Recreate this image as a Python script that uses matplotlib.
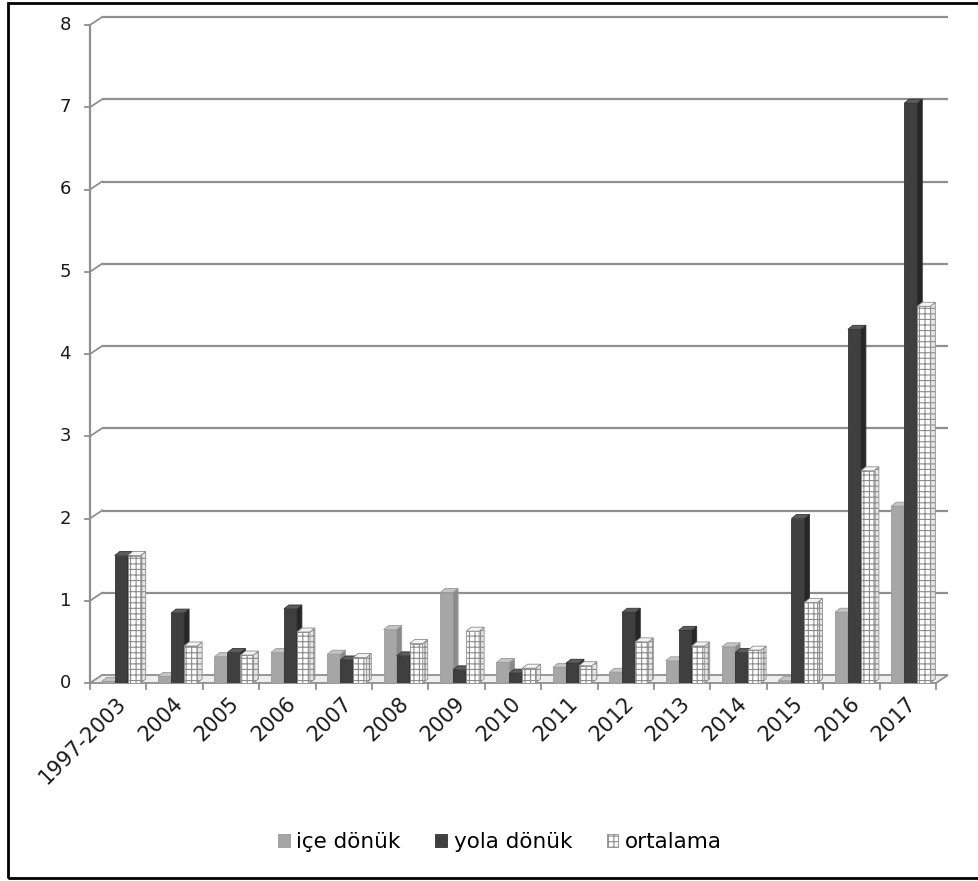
import matplotlib
matplotlib.use("Agg")
import matplotlib.pyplot as plt
from matplotlib.patches import Polygon, Rectangle, Patch

# ---- data -------------------------------------------------------------
categories = ['1997-2003', '2004', '2005', '2006', '2007', '2008', '2009',
              '2010', '2011', '2012', '2013', '2014', '2015', '2016', '2017']
ice_donuk = [0.02, 0.08, 0.32, 0.37, 0.35, 0.65, 1.10, 0.25, 0.19, 0.13,
             0.27, 0.44, 0.03, 0.86, 2.15]
yola_donuk = [1.55, 0.85, 0.37, 0.90, 0.28, 0.33, 0.16, 0.12, 0.24, 0.86,
              0.64, 0.37, 2.00, 4.30, 7.05]
ortalama = [1.55, 0.45, 0.34, 0.62, 0.31, 0.48, 0.63, 0.18, 0.21, 0.50,
            0.45, 0.40, 0.98, 2.58, 4.58]
series_names = ['içe dönük', 'yola dönük', 'ortalama']
y_ticks = [0, 1, 2, 3, 4, 5, 6, 7, 8]

FONT = ['DejaVu Sans']
plt.rcParams['font.family'] = FONT
plt.rcParams['hatch.linewidth'] = 0.8

W, H = 979, 881
fig = plt.figure(figsize=(W / 100, H / 100), dpi=100)
fig.patch.set_facecolor('white')

x_left, x_right, y_bot, y_top = 90, 936, 683, 25
ax = fig.add_axes([x_left / W, 1 - y_bot / H, (x_right - x_left) / W,
                   (y_bot - y_top) / H])
n = len(categories)
ax.set_xlim(0, n)
ax.set_ylim(0, y_ticks[-1])
ax.axis('off')

# pixel sizes in data units
px = n / (x_right - x_left)
py = y_ticks[-1] / (y_bot - y_top)

wall_dx, wall_dy = 12 * px, 8 * py     # depth of back wall
bar_dx, bar_dy = 5 * px, 4 * py        # depth of each bar
grid_c = '#8f8f8f'
text_c = '#1a1a1a'

# floor
floor = Polygon([(0, 0), (n, 0), (n + wall_dx, wall_dy), (wall_dx, wall_dy)],
                closed=True, facecolor='#eeeeee', edgecolor=grid_c, lw=1.3,
                zorder=1, clip_on=False)
ax.add_patch(floor)

# back wall gridlines with their diagonal joints to the value axis
for v in y_ticks[1:]:
    ax.plot([wall_dx, n + wall_dx], [v + wall_dy, v + wall_dy], color=grid_c,
            lw=1.6, zorder=1, clip_on=False, solid_capstyle='butt')
    ax.plot([0, wall_dx], [v, v + wall_dy], color=grid_c, lw=1.3, zorder=1,
            clip_on=False)

# value axis
ax.plot([0, 0], [0, y_ticks[-1]], color=grid_c, lw=1.6, zorder=1, clip_on=False)
for v in y_ticks:
    ax.plot([-5 * px, 0], [v, v], color=grid_c, lw=1.3, zorder=1, clip_on=False)
    ax.text(-19 * px, v, str(v), ha='right', va='center', fontsize=13,
            color=text_c, clip_on=False)

# category axis ticks and labels
for i in range(n + 1):
    ax.plot([i, i], [0, -6 * py], color=grid_c, lw=1.3, zorder=1, clip_on=False)
for i, c in enumerate(categories):
    ax.text(i + 0.5 + 5 * px, -17 * py, c, rotation=45, ha='right',
            va='center', rotation_mode='anchor', fontsize=15,
            color=text_c, clip_on=False)

# 3-D style clustered bars
bar_w = 13 * px
shift = 3 * px
styles = [
    dict(face='#a6a6a6', side='#8a8a8a', top='#c4c4c4', edge='#9a9a9a', hatch=None),
    dict(face='#3f3f3f', side='#262626', top='#5c5c5c', edge='#333333', hatch=None),
    dict(face='white', side='#e6e6e6', top='#f4f4f4', edge='#8c8c8c', hatch='+++'),
]
series = [ice_donuk, yola_donuk, ortalama]
for k, (vals, st) in enumerate(zip(series, styles)):
    z = 3 + k
    xs = [i + 0.5 + shift + (k - 1) * bar_w for i in range(n)]
    bars = ax.bar(xs, vals, width=bar_w, color=st['face'], edgecolor=st['edge'],
                  linewidth=0.6, hatch=st['hatch'], zorder=z,
                  label=series_names[k])
    for b in bars:
        x0, w, v = b.get_x(), b.get_width(), b.get_height()
        side = Polygon([(x0 + w, 0), (x0 + w + bar_dx, bar_dy),
                        (x0 + w + bar_dx, v + bar_dy), (x0 + w, v)],
                       closed=True, facecolor=st['side'], edgecolor=st['edge'],
                       lw=0.6, hatch=st['hatch'], zorder=z, clip_on=False)
        top = Polygon([(x0, v), (x0 + bar_dx, v + bar_dy),
                       (x0 + w + bar_dx, v + bar_dy), (x0 + w, v)],
                      closed=True, facecolor=st['top'], edgecolor=st['edge'],
                      lw=0.6, zorder=z, clip_on=False)
        ax.add_patch(side)
        ax.add_patch(top)

# legend
handles = [Patch(facecolor=st['face'], edgecolor=st['edge'], hatch=st['hatch'],
                 lw=0.6) for st in styles]
fig.legend(handles, series_names, loc='center', ncol=3, frameon=False,
           bbox_to_anchor=(500 / W, 1 - 842 / H), fontsize=15.5,
           handlelength=0.55, handleheight=0.55, handletextpad=0.3,
           columnspacing=1.6)

# outer frame
fig.patches.append(Rectangle((8 / W, 3 / H), 1.0, (878 - 3) / H,
                             transform=fig.transFigure, fill=False,
                             edgecolor='black', lw=2.0, clip_on=True))

fig.savefig('out.png', dpi=100, facecolor='white')
